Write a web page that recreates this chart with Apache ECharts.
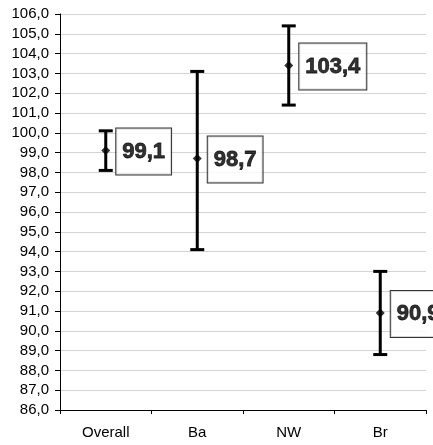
<!DOCTYPE html>
<html>
<head>
<meta charset="utf-8">
<script src="https://cdn.jsdelivr.net/npm/echarts@6/dist/echarts.min.js"></script>
<style>
  html, body { margin: 0; padding: 0; background: #fff; }
  #chart { width: 433px; height: 445px; }
</style>
</head>
<body>
<div id="chart"></div>
<script>
// Group means with their lower/upper bounds
var categories = ['Overall', 'Ba', 'NW', 'Br'];
var means = [99.1, 98.7, 103.4, 90.9];
var lowerBounds = [98.1, 94.1, 101.4, 88.8];
var upperBounds = [100.1, 103.1, 105.4, 93.0];

var yMin = 86, yMax = 106, yStep = 1;

function fmt(v) {
  return v.toFixed(1).replace('.', ',');
}

var barData = categories.map(function (c, i) {
  return [i, lowerBounds[i], upperBounds[i]];
});
var pointData = categories.map(function (c, i) {
  return [i, means[i]];
});

var chart = echarts.init(document.getElementById('chart'), null, { renderer: 'canvas' });

chart.setOption({
  backgroundColor: '#ffffff',
  animation: false,
  textStyle: { fontFamily: 'Liberation Sans' },
  grid: { left: 60, right: 7, top: 14, bottom: 35, containLabel: false },
  xAxis: {
    type: 'category',
    data: categories,
    boundaryGap: true,
    axisLine: { lineStyle: { color: '#000', width: 1 } },
    axisTick: { show: true, length: 4, lineStyle: { color: '#000' } },
    axisLabel: { color: '#000', fontFamily: 'Liberation Sans', fontSize: 15, margin: 15 },
    splitLine: { show: false }
  },
  yAxis: {
    type: 'value',
    min: yMin,
    max: yMax,
    interval: yStep,
    axisLine: { show: true, lineStyle: { color: '#000', width: 1 } },
    axisTick: { show: true, length: 5, lineStyle: { color: '#000' } },
    axisLabel: {
      color: '#000', fontFamily: 'Liberation Sans', fontSize: 15, margin: 11,
      formatter: function (v) { return fmt(v); }
    },
    splitLine: { show: true, lineStyle: { color: '#d4d4d4', width: 1 } }
  },
  series: [
    {
      type: 'custom',
      data: barData,
      z: 3,
      renderItem: function (params, api) {
        var x = api.value(0);
        var lo = api.coord([x, api.value(1)]);
        var hi = api.coord([x, api.value(2)]);
        var half = 7;
        var style = { stroke: '#000', lineWidth: 3 };
        return {
          type: 'group',
          children: [
            { type: 'line', shape: { x1: lo[0], y1: lo[1], x2: hi[0], y2: hi[1] }, style: style },
            { type: 'line', shape: { x1: lo[0] - half, y1: lo[1], x2: lo[0] + half, y2: lo[1] }, style: style },
            { type: 'line', shape: { x1: hi[0] - half, y1: hi[1], x2: hi[0] + half, y2: hi[1] }, style: style }
          ]
        };
      }
    },
    {
      type: 'scatter',
      data: pointData,
      z: 4,
      symbol: 'diamond',
      symbolSize: 9,
      itemStyle: { color: '#000' },
      label: {
        show: true,
        position: 'right',
        distance: 6,
        offset: [0, 1],
        formatter: function (p) { return '{v|' + fmt(p.value[1]) + '}'; },
        rich: {
          v: {
            color: '#000',
            fontFamily: 'Liberation Sans',
            fontWeight: 700,
            fontSize: 22,
            lineHeight: 24,
            textBorderColor: '#000',
            textBorderWidth: 0.8
          }
        },
        backgroundColor: '#fff',
        borderColor: '#000',
        borderWidth: 1,
        padding: [11, 6]
      }
    }
  ]
});
</script>
</body>
</html>
